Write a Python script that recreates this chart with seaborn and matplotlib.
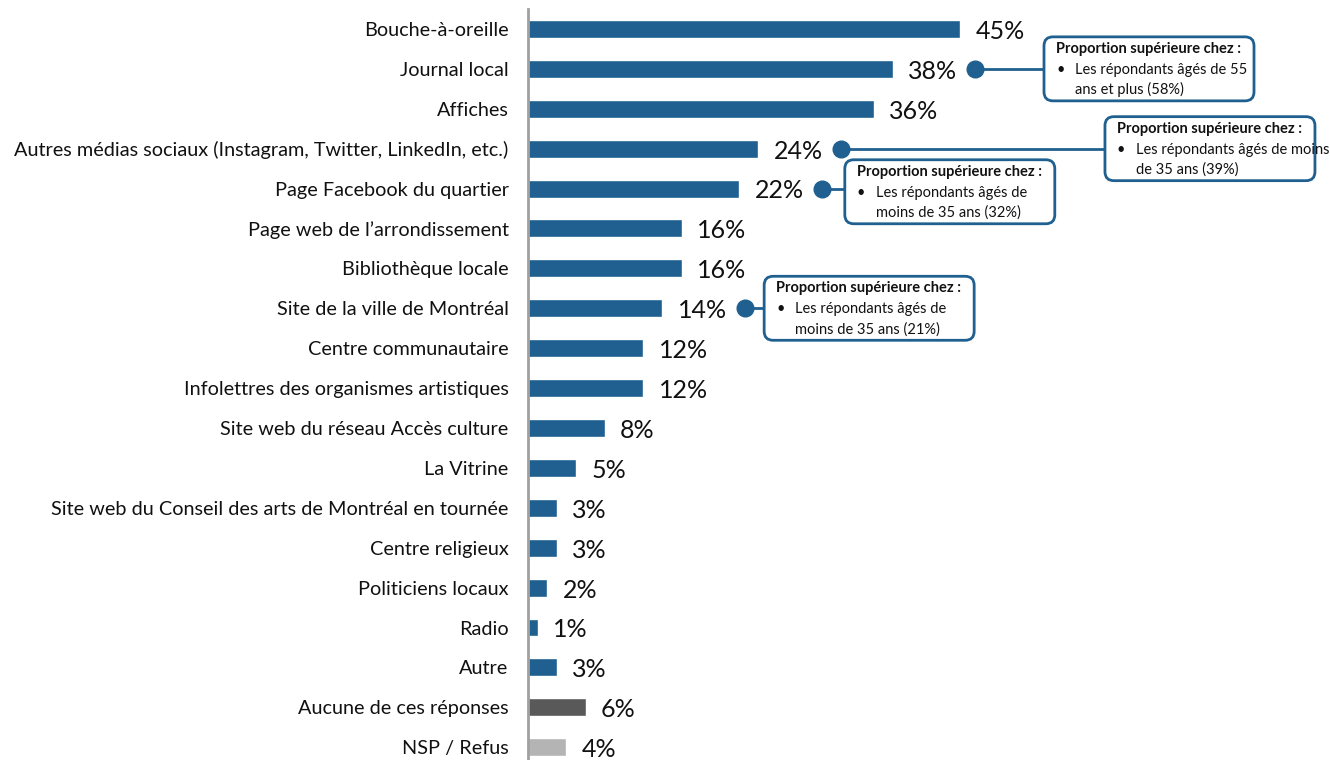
import matplotlib
matplotlib.use("Agg")
import matplotlib.pyplot as plt
import seaborn as sns
import pandas as pd
from matplotlib.patches import FancyBboxPatch
from matplotlib.transforms import IdentityTransform

categories = [
    "Bouche-à-oreille", "Journal local", "Affiches",
    "Autres médias sociaux (Instagram, Twitter, LinkedIn, etc.)",
    "Page Facebook du quartier", "Page web de l\u2019arrondissement",
    "Bibliothèque locale", "Site de la ville de Montréal",
    "Centre communautaire", "Infolettres des organismes artistiques",
    "Site web du réseau Accès culture", "La Vitrine",
    "Site web du Conseil des arts de Montréal en tournée",
    "Centre religieux", "Politiciens locaux", "Radio", "Autre",
    "Aucune de ces réponses", "NSP / Refus",
]
values = [45, 38, 36, 24, 22, 16, 16, 14, 12, 12, 8, 5, 3, 3, 2, 1, 3, 6, 4]
groups = ["main"] * 17 + ["none", "nsp"]
group_colors = {"main": "#1F6090", "none": "#595959", "nsp": "#B4B4B4"}

callout_rows = [1, 3, 4, 7]
callout_title = "Proportion supérieure chez :"
callout_lines = [
    ["Les répondants âgés de 55", "ans et plus (58%)"],
    ["Les répondants âgés de moins", "de 35 ans (39%)"],
    ["Les répondants âgés de", "moins de 35 ans (32%)"],
    ["Les répondants âgés de", "moins de 35 ans (21%)"],
]
# box left edge (data units) for each callout
callout_box_x = [53.75, 60.1, 33.0, 24.6]
callout_box_dy = [0, 0, 0.08, 0]

sns.set_theme(style="white")
plt.rcParams["font.family"] = ["Lato", "DejaVu Sans"]

W, H, DPI = 1330, 760, 100
fig = plt.figure(figsize=(W / DPI, H / DPI), dpi=DPI)
ax = fig.add_axes([528 / W, 0, 1 - 528 / W, 1 - 9 / H])

df = pd.DataFrame({"cat": categories, "val": values, "grp": groups})
sns.barplot(data=df, x="val", y="cat", hue="grp", palette=group_colors,
            dodge=False, width=0.45, legend=False, ax=ax, orient="h",
            saturation=1)

ax.set_xlim(0, (W - 528) / 9.6)
ax.set_ylim(18.32, -0.5)
ax.set_xlabel("")
ax.set_ylabel("")
ax.set_xticks([])
for s in ["top", "right", "bottom"]:
    ax.spines[s].set_visible(False)
ax.spines["left"].set_color("#A0A0A0")
ax.spines["left"].set_linewidth(2)
ax.tick_params(axis="y", length=0, pad=14, labelsize=14.3, labelcolor="#111111")

for i, v in enumerate(values):
    ax.text(v + 1.6, i + 0.06, f"{v}%", va="center", ha="left", fontsize=18,
            color="#111111")

fig.canvas.draw()
blue = "#1F6090"
to_px = ax.transData.transform
fs = 10.5
for k, row in enumerate(callout_rows):
    v = values[row]
    dot_x = v + 8.6
    bx = callout_box_x[k]
    ax.plot([dot_x, bx], [row, row], color=blue, lw=2, clip_on=False,
            zorder=3)
    ax.plot([dot_x], [row], "o", color=blue, ms=12, clip_on=False, zorder=4)
    x0, yc = to_px((bx, row + callout_box_dy[k]))
    w_px, h_px = 210, 64
    box = FancyBboxPatch((x0, yc - h_px / 2), w_px, h_px,
                         boxstyle="round,pad=0,rounding_size=9",
                         transform=IdentityTransform(), facecolor="white",
                         edgecolor=blue, lw=2, zorder=5, clip_on=False)
    fig.patches.append(box)
    top = yc + h_px / 2
    fig.text((x0 + 12) / W, (top - 12) / H, callout_title, fontsize=fs,
             fontweight="bold", va="center", ha="left", color="#111111",
             zorder=6)
    fig.text((x0 + 12) / W, (top - 33) / H, "\u2022", fontsize=fs,
             va="center", ha="left", color="#111111", zorder=6)
    fig.text((x0 + 31) / W, (top - 33) / H, callout_lines[k][0], fontsize=fs,
             va="center", ha="left", color="#111111", zorder=6)
    fig.text((x0 + 31) / W, (top - 53) / H, callout_lines[k][1], fontsize=fs,
             va="center", ha="left", color="#111111", zorder=6)

fig.savefig("out.png", dpi=DPI)
